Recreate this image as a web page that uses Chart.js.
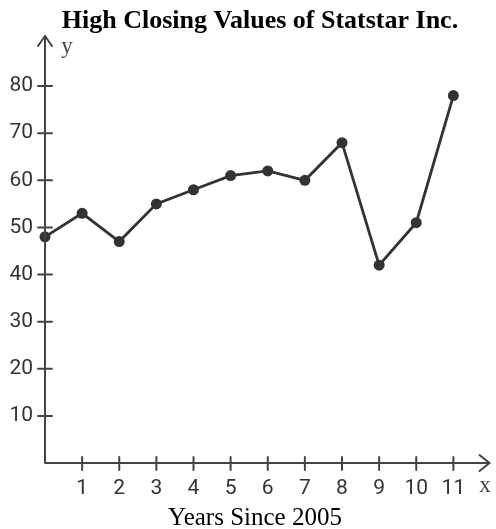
<!DOCTYPE html>
<html>
<head>
<meta charset="utf-8">
<script src="https://cdn.jsdelivr.net/npm/chart.js@4"></script>
<style>
  html, body { margin: 0; padding: 0; background: #fff; }
  #wrap { width: 496px; height: 529px; }
</style>
</head>
<body>
<div id="wrap"><canvas id="chart" width="496" height="529"></canvas></div>
<script>
// years since 2005 and the high closing value for each
const years = [0, 1, 2, 3, 4, 5, 6, 7, 8, 9, 10, 11];
const closingValues = [48, 53, 47, 55, 58, 61, 62, 60, 68, 42, 51, 78];
const xTickValues = [1, 2, 3, 4, 5, 6, 7, 8, 9, 10, 11];
const yTickValues = [10, 20, 30, 40, 50, 60, 70, 80];

const ink = '#333';

// axes with arrows, tick marks crossing the axes, title and axis names
const axesPlugin = {
    id: 'axesArrows',
    afterDraw(chart) {
        const { ctx, chartArea: a, scales: { x, y } } = chart;
        const x0 = x.getPixelForValue(0);
        const y0 = y.getPixelForValue(0);
        ctx.save();
        ctx.strokeStyle = '#444';
        ctx.lineWidth = 2;
        ctx.lineCap = 'round';
        ctx.lineJoin = 'round';
        ctx.beginPath();
        ctx.moveTo(x0, y0);
        ctx.lineTo(x0, a.top - 3);
        ctx.moveTo(x0, y0);
        ctx.lineTo(a.right - 1, y0);
        ctx.stroke();
        // arrow heads
        ctx.beginPath();
        ctx.moveTo(x0 - 7, a.top + 7);
        ctx.lineTo(x0, a.top - 3);
        ctx.lineTo(x0 + 7, a.top + 7);
        ctx.moveTo(a.right - 11, y0 - 8);
        ctx.lineTo(a.right - 1, y0);
        ctx.lineTo(a.right - 11, y0 + 8);
        ctx.stroke();
        // tick marks
        ctx.beginPath();
        yTickValues.forEach(v => {
            const py = y.getPixelForValue(v);
            ctx.moveTo(x0 - 7, py);
            ctx.lineTo(x0 + 7, py);
        });
        xTickValues.forEach(v => {
            const px = x.getPixelForValue(v);
            ctx.moveTo(px, y0 - 6);
            ctx.lineTo(px, y0 + 7);
        });
        ctx.stroke();

        ctx.fillStyle = '#000';
        ctx.textAlign = 'center';
        ctx.textBaseline = 'alphabetic';
        ctx.font = 'bold 26px "Liberation Serif", serif';
        ctx.fillText('High Closing Values of Statstar Inc.', 260, 28);
        ctx.font = '25px "Liberation Serif", serif';
        ctx.fillText('Years Since 2005', 255, 525);
        ctx.fillStyle = '#444';
        ctx.font = '23px "Liberation Serif", serif';
        ctx.fillText('x', 485, 492);
        ctx.fillText('y', 67, 53);
        ctx.restore();
    }
};

new Chart(document.getElementById('chart'), {
    type: 'line',
    data: {
        labels: years,
        datasets: [{
            data: years.map((yr, i) => ({ x: yr, y: closingValues[i] })),
            borderColor: ink,
            backgroundColor: ink,
            borderWidth: 2.8,
            pointRadius: 5.5,
            pointBackgroundColor: ink,
            pointBorderWidth: 0,
            tension: 0,
            clip: false
        }]
    },
    options: {
        responsive: false,
        animation: false,
        layout: { padding: { top: 39, left: 0, right: 1, bottom: 0 } },
        plugins: { legend: { display: false }, tooltip: { enabled: false } },
        scales: {
            x: {
                type: 'linear',
                min: 0,
                max: 12,
                afterFit(s) { s.height = 66; },
                afterBuildTicks(s) { s.ticks = xTickValues.map(v => ({ value: v })); },
                grid: { display: false, drawTicks: false },
                border: { display: false },
                ticks: {
                    padding: 13,
                    color: ink,
                    font: { family: 'Roboto', size: 21 },
                    maxRotation: 0,
                    autoSkip: false
                }
            },
            y: {
                min: 0,
                max: 90,
                afterFit(s) { s.width = 45; },
                afterBuildTicks(s) { s.ticks = yTickValues.map(v => ({ value: v })); },
                grid: { display: false, drawTicks: false },
                border: { display: false },
                ticks: {
                    padding: 12,
                    color: ink,
                    font: { family: 'Roboto', size: 21 }
                }
            }
        }
    },
    plugins: [axesPlugin]
});
</script>
</body>
</html>
